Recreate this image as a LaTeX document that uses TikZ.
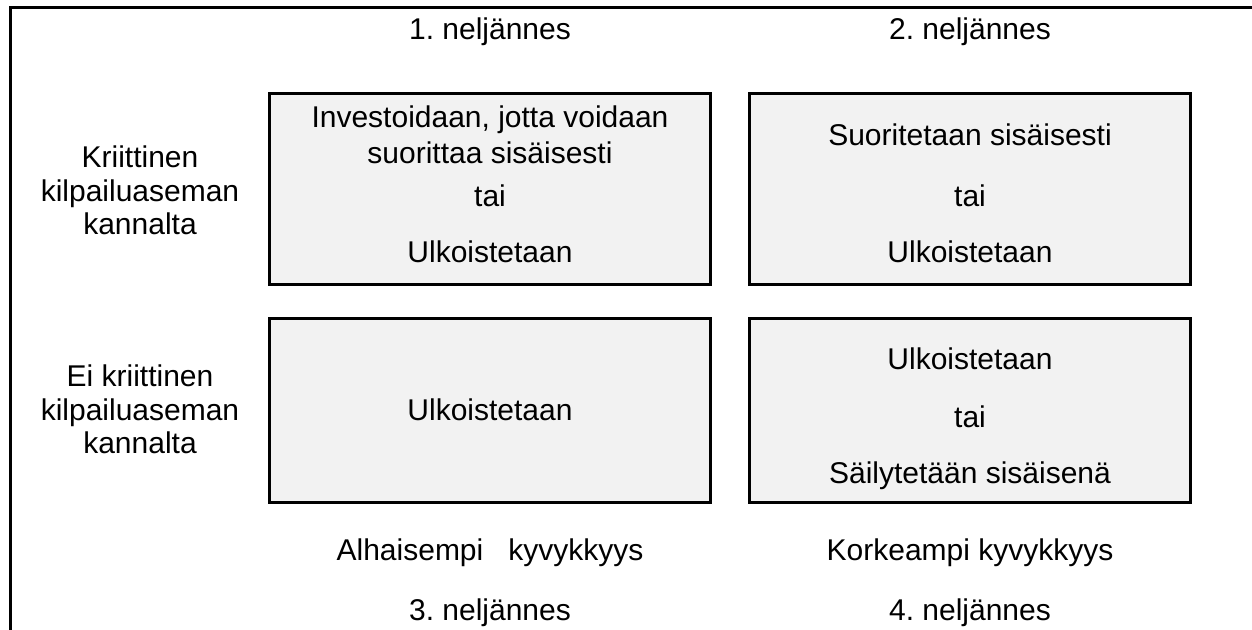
\documentclass[tikz,border=0pt]{standalone}
\usepackage{fontspec}
\setmainfont{Liberation Sans}
\usetikzlibrary{positioning}
\definecolor{ruutuharmaa}{HTML}{F2F2F2}
\tikzset{every picture/.style={line width=1.5pt}}
\tikzset{
  ruutu/.style={draw=black, fill=ruutuharmaa, line width=1.5pt, minimum width=220.5pt, inner sep=0pt},
  teksti/.style={font=\fontsize{15pt}{16.75pt}\selectfont\frenchspacing, align=center, inner sep=0pt},
  rivi/.style={teksti, anchor=base}
}

\begin{document}
\begin{tikzpicture}[x=0.5pt,y=-0.5pt]
    \useasboundingbox (0,0) rectangle (1252,630);
    % kehys
    \draw (10,645) |- (1265,7.5);

    % ruudut
    \node[ruutu, minimum height=95.5pt] (r1) at (490,189.5) {};
    \node[ruutu, minimum height=95.5pt] (r2) at (970,189.5) {};
    \node[ruutu, minimum height=91.5pt] (r3) at (490,410.5) {};
    \node[ruutu, minimum height=91.5pt] (r4) at (970,410.5) {};

    % neljännekset
    \node[rivi] (n1) at (490,40) {1. neljännes};
    \node[rivi] (n2) at (970,40) {2. neljännes};
    \node[rivi] (n3) at (490,620) {3. neljännes};
    \node[rivi] (n4) at (970,620) {4. neljännes};

    % rivien otsikot
    \node[teksti] (kriit) at (140,190.5) {Kriittinen\\kilpailuaseman\\kannalta};
    \node[teksti] (eikriit) at (140,409.5) {Ei kriittinen\\kilpailuaseman\\kannalta};

    % sarakkeiden otsikot
    \node[rivi] (alh) at (490,560) {Alhaisempi\ \ \ kyvykkyys};
    \node[rivi] (kork) at (970,560) {Korkeampi kyvykkyys};

    % 1. neljännes
    \node[teksti] (inv) at (490,135) {Investoidaan, jotta voidaan\\[1.5pt]suorittaa sisäisesti};
    \node[rivi] (tai1) at (490,207) {tai};
    \node[rivi] (ulk1) at (490,263) {Ulkoistetaan};

    % 2. neljännes
    \node[rivi] (suor) at (970,146) {Suoritetaan sisäisesti};
    \node[rivi] (tai2) at (970,207) {tai};
    \node[rivi] (ulk2) at (970,263) {Ulkoistetaan};

    % 3. neljännes
    \node[rivi] (ulk3) at (490,421) {Ulkoistetaan};

    % 4. neljännes
    \node[rivi] (ulk4) at (970,370) {Ulkoistetaan};
    \node[rivi] (tai4) at (970,428) {tai};
    \node[rivi] (sail) at (970,483) {Säilytetään sisäisenä};
\end{tikzpicture}
\end{document}
